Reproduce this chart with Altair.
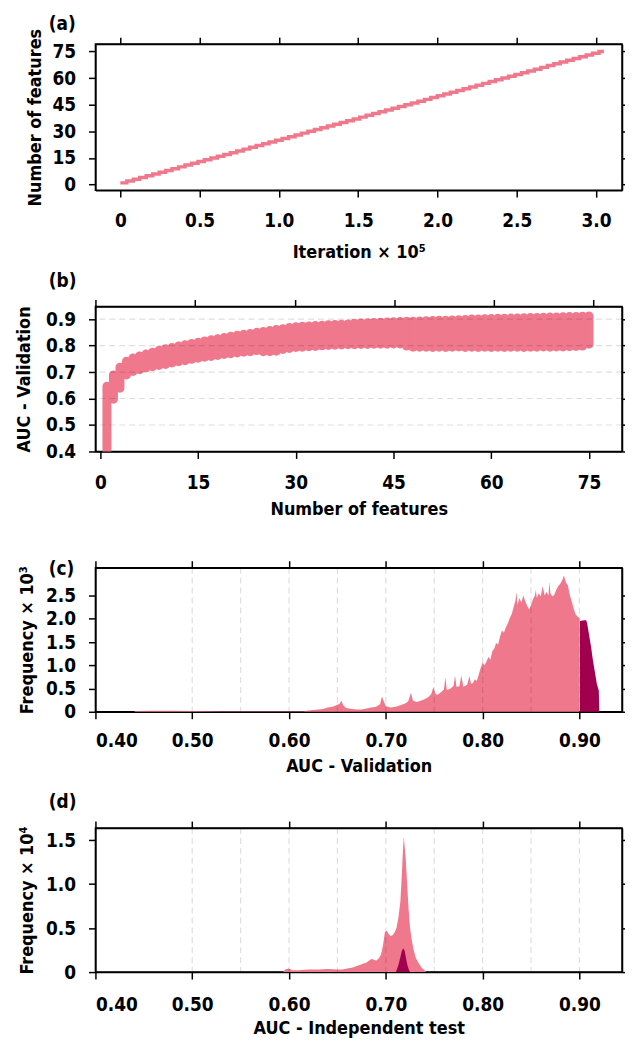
import altair as alt
import pandas as pd

PINK = "#F0788C"
DARK = "#A1004F"
FONT = "DejaVu Sans Condensed, DejaVu Sans"

# ---------------- (a) number of features vs iteration (x 10^5) ----------------
feat_a = list(range(1, 76))
iter_a = [0.000, 0.041, 0.082, 0.122, 0.163, 0.204, 0.245, 0.286, 0.326, 0.367,
          0.408, 0.449, 0.490, 0.530, 0.571, 0.612, 0.653, 0.694, 0.734, 0.775,
          0.816, 0.857, 0.898, 0.938, 0.979, 1.020, 1.061, 1.102, 1.142, 1.183,
          1.224, 1.265, 1.306, 1.346, 1.387, 1.428, 1.469, 1.510, 1.550, 1.591,
          1.632, 1.673, 1.714, 1.754, 1.795, 1.836, 1.877, 1.918, 1.958, 1.999,
          2.040, 2.081, 2.122, 2.162, 2.203, 2.244, 2.285, 2.326, 2.366, 2.407,
          2.448, 2.489, 2.530, 2.570, 2.611, 2.652, 2.693, 2.734, 2.774, 2.815,
          2.856, 2.897, 2.938, 2.978, 3.019]
iter_end = 3.05

# ---------------- (b) AUC validation range per number of features -------------
feat_b = list(range(1, 76))
auc_max = [0.663, 0.706, 0.735, 0.758, 0.770, 0.778, 0.785, 0.792, 0.799, 0.805,
           0.810, 0.815, 0.820, 0.825, 0.830, 0.834, 0.839, 0.843, 0.848, 0.852,
           0.856, 0.860, 0.863, 0.867, 0.870, 0.874, 0.878, 0.881, 0.885, 0.888,
           0.890, 0.891, 0.893, 0.894, 0.896, 0.897, 0.898, 0.899, 0.901, 0.902,
           0.903, 0.904, 0.905, 0.906, 0.907, 0.908, 0.909, 0.909, 0.910, 0.911,
           0.912, 0.913, 0.913, 0.914, 0.915, 0.916, 0.917, 0.917, 0.918, 0.919,
           0.920, 0.920, 0.921, 0.921, 0.922, 0.923, 0.923, 0.924, 0.925, 0.925,
           0.926, 0.927, 0.927, 0.928, 0.929]
auc_min = [0.300, 0.580, 0.622, 0.672, 0.685, 0.692, 0.698, 0.703, 0.708, 0.712,
           0.717, 0.722, 0.726, 0.731, 0.735, 0.739, 0.742, 0.746, 0.749, 0.752,
           0.755, 0.758, 0.760, 0.764, 0.760, 0.760, 0.762, 0.768, 0.772, 0.776,
           0.777, 0.779, 0.780, 0.782, 0.783, 0.784, 0.785, 0.786, 0.786, 0.787,
           0.787, 0.788, 0.788, 0.788, 0.789, 0.789, 0.781, 0.777, 0.777, 0.777,
           0.776, 0.777, 0.776, 0.777, 0.778, 0.776, 0.777, 0.776, 0.777, 0.776,
           0.777, 0.776, 0.777, 0.777, 0.776, 0.777, 0.777, 0.778, 0.777, 0.778,
           0.778, 0.779, 0.780, 0.781, 0.788]

# ---------------- (c) histogram of AUC validation (x 10^3) --------------------
val_x = [0.440, 0.441, 0.460, 0.480, 0.500, 0.530, 0.560, 0.600, 0.615, 0.620,
         0.625, 0.630, 0.635, 0.640, 0.645, 0.650, 0.652, 0.654, 0.656, 0.659,
         0.665, 0.670, 0.675, 0.680, 0.685, 0.690, 0.694, 0.696, 0.698, 0.700,
         0.705, 0.710, 0.715, 0.720, 0.723, 0.726, 0.728, 0.732, 0.736, 0.740,
         0.744, 0.747, 0.749, 0.751, 0.753, 0.757, 0.760, 0.7615, 0.763, 0.767,
         0.770, 0.7715, 0.773, 0.776, 0.778, 0.780, 0.784, 0.7865, 0.788,
         0.790, 0.792, 0.794, 0.796, 0.798, 0.800, 0.802, 0.804, 0.806, 0.808,
         0.810, 0.812, 0.814, 0.816, 0.818, 0.820, 0.822, 0.824, 0.826, 0.828,
         0.830, 0.832, 0.834, 0.835, 0.836, 0.838, 0.840, 0.842, 0.844, 0.846,
         0.848, 0.850, 0.852, 0.854, 0.855, 0.856, 0.858, 0.860, 0.862, 0.864,
         0.866, 0.868, 0.869, 0.870, 0.872, 0.874, 0.876, 0.878, 0.880, 0.882,
         0.884, 0.886, 0.888, 0.890, 0.892, 0.894, 0.896, 0.898, 0.900]
val_f = [0.000, 0.015, 0.020, 0.020, 0.015, 0.010, 0.010, 0.010, 0.010, 0.030,
         0.040, 0.050, 0.060, 0.090, 0.110, 0.150, 0.170, 0.240, 0.140, 0.080,
         0.060, 0.050, 0.050, 0.070, 0.090, 0.110, 0.160, 0.330, 0.220, 0.120,
         0.090, 0.110, 0.140, 0.180, 0.220, 0.410, 0.240, 0.210, 0.240, 0.270,
         0.320, 0.380, 0.530, 0.400, 0.360, 0.420, 0.480, 0.740, 0.470, 0.500,
         0.560, 0.780, 0.540, 0.550, 0.780, 0.540, 0.580, 0.770, 0.600,
         0.620, 0.700, 0.660, 0.800, 0.950, 1.060, 1.000, 1.080, 1.180, 1.120,
         1.300, 1.360, 1.480, 1.450, 1.620, 1.750, 1.700, 1.820, 1.900, 2.020,
         2.100, 2.250, 2.400, 2.580, 2.300, 2.450, 2.350, 2.500, 2.380, 2.280,
         2.200, 2.300, 2.420, 2.500, 2.620, 2.450, 2.550, 2.480, 2.700, 2.500,
         2.580, 2.500, 2.800, 2.550, 2.480, 2.520, 2.620, 2.700, 2.750, 2.820,
         2.930, 2.780, 2.720, 2.520, 2.380, 2.220, 2.100, 2.050, 2.020]
val_top_x = [0.9005, 0.902, 0.905, 0.907, 0.908, 0.910, 0.912, 0.914, 0.916, 0.918,
             0.920, 0.9205]
val_top_f = [1.950, 1.960, 1.970, 1.970, 1.900, 1.650, 1.400, 1.100, 0.850, 0.600,
             0.450, 0.000]

# ---------------- (d) histogram of AUC independent test (x 10^4) --------------
test_x = [0.594, 0.596, 0.600, 0.603, 0.610, 0.620, 0.630, 0.640, 0.650, 0.655,
          0.660, 0.665, 0.670, 0.675, 0.680, 0.685, 0.688, 0.690, 0.693, 0.695,
          0.697, 0.699, 0.701, 0.703, 0.705, 0.707, 0.709, 0.711, 0.713, 0.715,
          0.7165, 0.7175, 0.7185, 0.7195, 0.7205, 0.722, 0.7235, 0.725, 0.727, 0.729,
          0.731, 0.734, 0.737, 0.740, 0.742]
test_f = [0.000, 0.030, 0.040, 0.020, 0.020, 0.030, 0.030, 0.035, 0.030, 0.030,
          0.040, 0.050, 0.070, 0.090, 0.110, 0.150, 0.140, 0.130, 0.160, 0.200,
          0.300, 0.450, 0.470, 0.430, 0.410, 0.420, 0.450, 0.500, 0.620, 0.800,
          1.100, 1.350, 1.540, 1.420, 1.300, 1.000, 0.720, 0.500, 0.350, 0.240,
          0.160, 0.100, 0.050, 0.020, 0.000]
test_top_x = [0.7105, 0.713, 0.715, 0.7165, 0.718, 0.7195, 0.721, 0.7225, 0.724, 0.725]
test_top_f = [0.000, 0.080, 0.170, 0.240, 0.270, 0.240, 0.150, 0.070, 0.020, 0.000]

grid_b = [0.5, 0.6, 0.7, 0.8, 0.9]
grid_cd = [0.50, 0.55, 0.60, 0.65, 0.70, 0.75, 0.80, 0.85, 0.90]
panel_labels = ["(a)", "(b)", "(c)", "(d)"]

W = 530
ZERO_EXPR = "datum.value == 0 ? '0' : format(datum.value, '.1f')"


def sc(dom):
    return alt.Scale(domain=dom, nice=False, zero=False)


def frame_layer(xdom, ydom, xvals, yvals):
    df = pd.DataFrame({"fx": [xdom[0]], "fy": [ydom[0]]})
    return alt.Chart(df).mark_point(opacity=0).encode(
        x=alt.X("fx:Q", scale=sc(xdom),
                axis=alt.Axis(orient="top", values=xvals, labels=False, title=None)),
        y=alt.Y("fy:Q", scale=sc(ydom),
                axis=alt.Axis(orient="right", values=yvals, labels=False, title=None)),
    )


def label_layer(txt, ypix):
    return alt.Chart(pd.DataFrame({"t": [txt]})).mark_text(
        font=FONT, fontSize=19, fontWeight="bold", color="black", align="left",
        baseline="middle", clip=False).encode(
        text="t:N", x=alt.value(-47), y=alt.value(ypix))


def axis(vals, title, tpad, fmt=None, expr=None, lpad=None):
    kw = dict(values=vals, title=title, titlePadding=tpad)
    if fmt:
        kw["format"] = fmt
    if expr:
        kw["labelExpr"] = expr
    if lpad is not None:
        kw["labelPadding"] = lpad
    return alt.Axis(**kw)


def grid_rules(vals, dom, channel):
    enc = {channel: alt.Y("g:Q", scale=sc(dom), axis=None) if channel == "y"
           else alt.X("g:Q", scale=sc(dom), axis=None)}
    return alt.Chart(pd.DataFrame({"g": vals})).mark_rule(
        color="#000000", opacity=0.13, strokeDash=[6, 4], strokeWidth=1.2).encode(**enc)


# ---- panel a
xa_dom, ya_dom = [-0.157, 3.164], [-3.1, 79.1]
xa_vals = [0, 0.5, 1.0, 1.5, 2.0, 2.5, 3.0]
ya_vals = [0, 15, 30, 45, 60, 75]
df_a = pd.DataFrame({"it": iter_a + [iter_end], "nf": feat_a + [feat_a[-1]]})
line_a = alt.Chart(df_a).mark_line(color=PINK, strokeWidth=3.5, interpolate="step-after").encode(
    x=alt.X("it:Q", scale=sc(xa_dom), axis=axis(xa_vals, "Iteration × 10⁵", 13, expr=ZERO_EXPR)),
    y=alt.Y("nf:Q", scale=sc(ya_dom), axis=axis(ya_vals, "Number of features", 8)),
)
panel_a = alt.layer(line_a, frame_layer(xa_dom, ya_dom, xa_vals, ya_vals),
                    label_layer(panel_labels[0], -20)).resolve_scale(
    x="independent", y="independent").properties(width=W, height=147)

# ---- panel b
xb_dom, yb_dom = [0, 79.3], [0.4, 0.948]
xb_vals = [0, 15, 30, 45, 60, 75]
yb_vals = [0.4, 0.5, 0.6, 0.7, 0.8, 0.9]
df_b = pd.DataFrame({"nf": feat_b, "lo": auc_min, "hi": auc_max})
bars_b = alt.Chart(df_b).mark_bar(color=PINK, width=9, cornerRadius=4.5, clip=True).encode(
    x=alt.X("nf:Q", scale=sc(xb_dom), axis=axis(xb_vals, "Number of features", 8)),
    y=alt.Y("lo:Q", scale=sc(yb_dom), axis=axis(yb_vals, "AUC - Validation", 12, fmt=".1f")),
    y2="hi:Q",
)
panel_b = alt.layer(bars_b, grid_rules(grid_b, yb_dom, "y"),
                    frame_layer(xb_dom, yb_dom, xb_vals, yb_vals),
                    label_layer(panel_labels[1], -26)).resolve_scale(
    x="independent", y="independent").properties(width=W, height=146)

# ---- panel c
xc_dom = [0.40, 0.944]
yc_dom = [0, 3.1]
xc_vals = [0.40, 0.50, 0.60, 0.70, 0.80, 0.90]
yc_vals = [0, 0.5, 1.0, 1.5, 2.0, 2.5]
area_c = alt.Chart(pd.DataFrame({"x": val_x, "f": val_f})).mark_area(color=PINK).encode(
    x=alt.X("x:Q", scale=sc(xc_dom), axis=axis(xc_vals, "AUC - Validation", 7, fmt=".2f", lpad=13)),
    y=alt.Y("f:Q", scale=sc(yc_dom), axis=axis(yc_vals, "Frequency × 10³", 9, expr=ZERO_EXPR)),
)
area_c2 = alt.Chart(pd.DataFrame({"x": val_top_x, "f": val_top_f})).mark_area(color=DARK).encode(
    x=alt.X("x:Q", scale=sc(xc_dom), axis=None),
    y=alt.Y("f:Q", scale=sc(yc_dom), axis=None),
)
panel_c = alt.layer(area_c, area_c2, grid_rules(grid_cd, xc_dom, "x"),
                    frame_layer(xc_dom, yc_dom, xc_vals, yc_vals),
                    label_layer(panel_labels[2], 1)).resolve_scale(
    x="independent", y="independent").properties(width=W, height=145)

# ---- panel d
yd_dom = [0, 1.638]
yd_vals = [0, 0.5, 1.0, 1.5]
area_d = alt.Chart(pd.DataFrame({"x": test_x, "f": test_f})).mark_area(color=PINK).encode(
    x=alt.X("x:Q", scale=sc(xc_dom), axis=axis(xc_vals, "AUC - Independent test", 5, fmt=".2f", lpad=17)),
    y=alt.Y("f:Q", scale=sc(yd_dom), axis=axis(yd_vals, "Frequency × 10⁴", 9, expr=ZERO_EXPR)),
)
area_d2 = alt.Chart(pd.DataFrame({"x": test_top_x, "f": test_top_f})).mark_area(color=DARK).encode(
    x=alt.X("x:Q", scale=sc(xc_dom), axis=None),
    y=alt.Y("f:Q", scale=sc(yd_dom), axis=None),
)
panel_d = alt.layer(area_d, area_d2, grid_rules(grid_cd, xc_dom, "x"),
                    frame_layer(xc_dom, yd_dom, xc_vals, yd_vals),
                    label_layer(panel_labels[3], -26)).resolve_scale(
    x="independent", y="independent").properties(width=W, height=145)

chart = alt.vconcat(panel_a, panel_b, panel_c, panel_d, spacing=117, bounds="flush").properties(
    padding={"left": 6, "top": 3, "right": -6, "bottom": -3}
).configure_axis(
    domainColor="black", domainWidth=1.5, tickColor="black", tickWidth=1.5, tickSize=7,
    labelFont=FONT, labelFontSize=19, labelFontWeight="bold", labelColor="black",
    titleFont=FONT, titleFontSize=18, titleFontWeight="bold",
    titleColor="black", grid=False,
).configure_axisX(labelPadding=15).configure_axisY(labelPadding=13).configure_view(
    stroke="black", strokeWidth=1.5)

chart.save("out.html", embed_options={"renderer": "svg", "actions": False})
